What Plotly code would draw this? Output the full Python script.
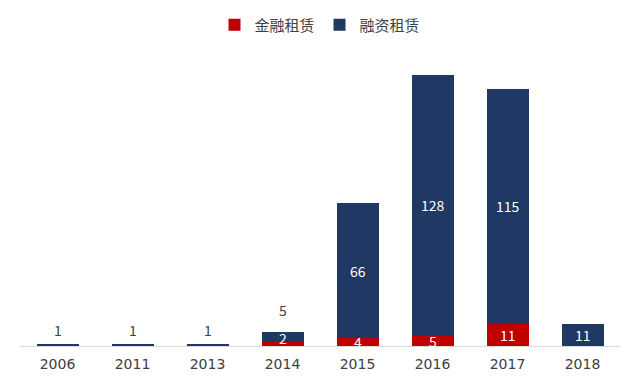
import plotly.graph_objects as go

years = ["2006", "2011", "2013", "2014", "2015", "2016", "2017", "2018"]
jinrong = [0, 0, 0, 2, 4, 5, 11, 0]          # 金融租赁
rongzi = [1, 1, 1, 5, 66, 128, 115, 11]      # 融资租赁

RED = "#C00000"
NAVY = "#203864"

idx = list(range(len(years)))

fig = go.Figure()
fig.add_trace(go.Bar(x=idx, y=jinrong, name="金融租赁", marker_color=RED,
                     marker_line_width=0))
fig.add_trace(go.Bar(x=idx, y=rongzi, name="融资租赁", marker_color=NAVY,
                     marker_line_width=0))

ann = []
for i, r, n in zip(idx, jinrong, rongzi):
    if r > 0:
        ann.append(dict(x=i, y=r / 2, text=str(r), showarrow=False,
                        yshift=6 if r < 4 else 0,
                        font=dict(color="white", size=14)))
    if n < 6:
        ann.append(dict(x=i, y=r + n, text=str(n), showarrow=False,
                        yanchor="bottom", yshift=10 if r > 0 else 2,
                        font=dict(color="#404040", size=14)))
    else:
        ann.append(dict(x=i, y=r + n / 2, text=str(n), showarrow=False,
                        font=dict(color="white", size=14)))

fig.update_layout(
    barmode="stack",
    bargap=0.44,
    width=640, height=384,
    margin=dict(l=20, r=20, t=10, b=38, autoexpand=False),
    paper_bgcolor="white", plot_bgcolor="white",
    font=dict(family="Noto Sans CJK SC, Noto Sans, sans-serif", color="#404040"),
    legend=dict(orientation="h", x=0.5, xanchor="center", y=0.955, yanchor="middle",
                font=dict(size=15, color="#404040"), traceorder="normal",
                itemwidth=30, bgcolor="rgba(0,0,0,0)"),
    xaxis=dict(range=[-0.5, len(years) - 0.5], tickvals=idx, ticktext=years,
               showgrid=False, showline=True, linecolor="#D9D9D9",
               linewidth=1, ticks="", zeroline=False, automargin=False,
               ticklabelstandoff=5,
               tickfont=dict(size=14, color="#404040", family="DejaVu Sans, sans-serif")),
    yaxis=dict(range=[0, 164.7], visible=False),
    annotations=ann,
)

fig.write_html("out.html", config={"displayModeBar": False},
               post_script="document.body.style.margin='0';")
